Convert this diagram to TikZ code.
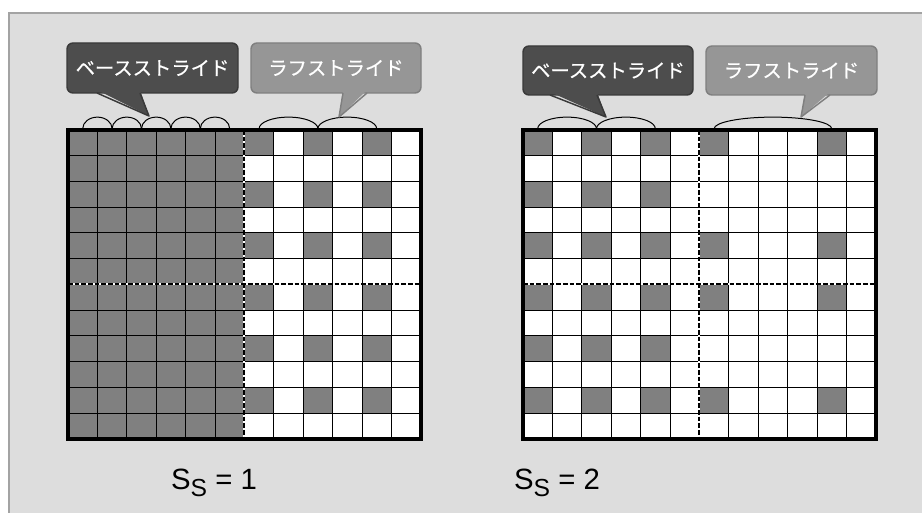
\documentclass[tikz,border=0pt]{standalone}
\usepackage{fontspec}
\usepackage{xcolor}
\usepackage{tikz}
\newfontfamily\jpfont[FakeBold=0.6]{Noto Sans CJK JP}
\newfontfamily\arialfont{Liberation Sans}
\definecolor{panel}{HTML}{DDDDDD}
\definecolor{panelrim}{HTML}{A3A3A3}
\definecolor{cellgray}{HTML}{808080}
\definecolor{basefill}{HTML}{4D4D4D}
\definecolor{baserim}{HTML}{3A3A3A}
\definecolor{roughfill}{HTML}{969696}
\definecolor{roughrim}{HTML}{7F7F7F}

% speech bubble: box corners, pointer base (left, right), tip, style
\newcommand{\bubble}[8]{%
  \draw[#8, line width=1.1pt, rounded corners=4.5pt] (#1,#2) rectangle (#3,#4);
  \fill[#8, draw=none] (#5,#4-3) -- (#7) -- (#6,#4-3) -- cycle;
  \draw[#8, fill=none, line width=1.1pt, line join=round] (#5,#4) -- (#7) -- (#6,#4);
}

\begin{document}
\begin{tikzpicture}[x=0.75pt, y=-0.75pt,
  cell/.style={fill=cellgray},
  cellline/.style={line width=0.75pt},
  frame/.style={line width=3pt},
  halfbed/.style={white, line width=1.5pt},
  half/.style={line width=1.5pt, dash pattern=on 3.5pt off 1.5pt},
  span/.style={line width=0.75pt},
  basebub/.style={fill=basefill, draw=baserim},
  roughbub/.style={fill=roughfill, draw=roughrim},
  bubtext/.style={text=white, font=\jpfont\fontsize{14.5}{16}\selectfont},
  sslabel/.style={font=\arialfont\fontsize{22}{26}\selectfont}]

  \useasboundingbox (0,0) rectangle (922,513);
  \clip (0,0) rectangle (922,513);
  \fill[white] (0,0) rectangle (922,513);
  \draw[fill=panel, draw=panelrim, line width=1.8pt] (9,13) rectangle (930,520);

  % Ss = 1
  \begin{scope}[shift={(68,130)}, x=22.05pt, y=-19.3125pt]
    \fill[white] (0,0) rectangle (12,12);
    \fill[cell] (0,0) rectangle (6,12);
    \foreach \c in {6,8,10}
      \foreach \r in {0,2,...,10}
        \fill[cell] (\c,\r) rectangle ++(1,1);
    \foreach \i in {1,...,11} {
      \draw[cellline] (\i,0) -- (\i,12);
      \draw[cellline] (0,\i) -- (12,\i);
    }
    \draw[halfbed] (6,0) -- (6,12);
    \draw[halfbed] (0,6) -- (12,6);
    \draw[half] (6,0) -- (6,12);
    \draw[half] (0,6) -- (12,6);
    \draw[frame] (0,0) rectangle (12,12);
    \foreach \c in {0,...,4}
      \draw[span] (\c+0.5,-0.05) arc[start angle=180, end angle=360, x radius=0.5, y radius=0.45];
    \foreach \c in {6,8}
      \draw[span] (\c+0.5,-0.05) arc[start angle=180, end angle=360, x radius=1, y radius=0.45];
  \end{scope}

  % Ss = 2
  \begin{scope}[shift={(523,130)}, x=22.05pt, y=-19.3125pt]
    \fill[white] (0,0) rectangle (12,12);
    \foreach \c in {0,2,4}
      \foreach \r in {0,2,...,10}
        \fill[cell] (\c,\r) rectangle ++(1,1);
    \foreach \c in {6,10}
      \foreach \r in {0,4,6,10}
        \fill[cell] (\c,\r) rectangle ++(1,1);
    \foreach \i in {1,...,11} {
      \draw[cellline] (\i,0) -- (\i,12);
      \draw[cellline] (0,\i) -- (12,\i);
    }
    \draw[halfbed] (6,0) -- (6,12);
    \draw[halfbed] (0,6) -- (12,6);
    \draw[half] (6,0) -- (6,12);
    \draw[half] (0,6) -- (12,6);
    \draw[frame] (0,0) rectangle (12,12);
    \foreach \c in {0,2}
      \draw[span] (\c+0.5,-0.05) arc[start angle=180, end angle=360, x radius=1, y radius=0.45];
    \draw[span] (6.5,-0.05) arc[start angle=180, end angle=360, x radius=2, y radius=0.45];
  \end{scope}

  \bubble{67}{43}{238}{93}{97}{140}{149,116}{basebub}
  \node[bubtext] (baseL) at (152.5,68) {ベースストライド};
  \bubble{251}{43}{421}{93}{343}{367}{339,117}{roughbub}
  \node[bubtext] (roughL) at (336,68) {ラフストライド};

  \bubble{523}{46}{693}{95}{550}{597}{606,117}{basebub}
  \node[bubtext] (baseR) at (608,70.5) {ベースストライド};
  \bubble{706}{46}{877}{95}{805}{830}{801,117}{roughbub}
  \node[bubtext] (roughR) at (791.5,70.5) {ラフストライド};

  \node[sslabel] (ssL) at (214,483) {S\raisebox{-5pt}{\fontsize{18.5}{20}\selectfont S} = 1};
  \node[sslabel] (ssR) at (557,483) {S\raisebox{-5pt}{\fontsize{18.5}{20}\selectfont S} = 2};
\end{tikzpicture}
\end{document}
